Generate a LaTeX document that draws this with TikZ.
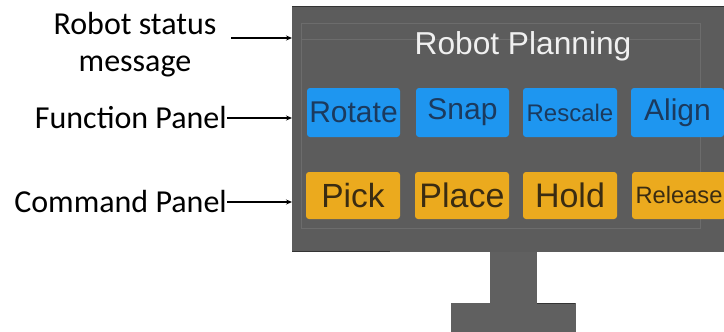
\documentclass[tikz,border=0pt]{standalone}
\usepackage{fontspec}
\setmainfont{Liberation Sans}
\newfontfamily\labelfont{Carlito}
\usetikzlibrary{arrows.meta}
\definecolor{screengray}{HTML}{5C5C5C}
\definecolor{framegray}{HTML}{6C6C6C}
\definecolor{edgegray}{HTML}{333333}
\definecolor{standgray}{HTML}{606060}
\definecolor{btnblue}{HTML}{1E96F0}
\definecolor{btnbluetext}{HTML}{1B3A5E}
\definecolor{btnyellow}{HTML}{EBAA1E}
\definecolor{btnyellowtext}{HTML}{3A2C12}
\tikzset{
  btn/.style={rounded corners=3pt, inner sep=0pt, minimum width=93pt},
  bluebtn/.style={btn, fill=btnblue, text=btnbluetext, minimum height=49pt},
  yellowbtn/.style={btn, fill=btnyellow, text=btnyellowtext, minimum height=47pt},
  sidelabel/.style={font=\labelfont\fontsize{32}{38}\selectfont, text=black, inner sep=0pt},
  pointer/.style={-{Stealth[length=6pt,width=5pt]}, line width=1.3pt, black},
}
\begin{document}
\begin{tikzpicture}[x=1pt,y=-1pt]
\useasboundingbox (0,0) rectangle (724,332);
% monitor stand
\fill[standgray] (490,250) rectangle (537,304);
\fill[standgray] (451,303) rectangle (576,332);
\draw[edgegray, line width=1pt] (537,303.5) -- (575,303.5);
% screen
\fill[screengray] (292,6) rectangle (730,252);
\draw[edgegray, line width=1.5pt] (292,6.5) -- (730,6.5);
\draw[edgegray, line width=1.5pt] (292,251.5) -- (390,251.5);
% inner frame of the screen
\draw[framegray, line width=0.6pt] (301,23) rectangle (700,228);
\draw[framegray, line width=0.6pt] (301,39) -- (700,39);
% title
\node[text=white!94!black, font=\fontsize{31.7}{36}\selectfont, inner sep=0pt] (title) at (523,46) {Robot Planning};
% function panel
\node[bluebtn, font=\fontsize{30}{34}\selectfont] (rotate) at (353.5,112.5) {Rotate};
\node[bluebtn, font=\fontsize{30}{34}\selectfont] (snap) at (462.5,112.5) {Snap};
\node[bluebtn, font=\fontsize{24}{28}\selectfont, minimum width=94pt] (rescale) at (570,112.5) {Rescale};
\node[bluebtn, font=\fontsize{30}{34}\selectfont] (align) at (677.5,112.5) {Align};
% command panel
\node[yellowbtn, font=\fontsize{33.5}{38}\selectfont, minimum width=94pt] (pick) at (353,195.5) {Pick};
\node[yellowbtn, font=\fontsize{34}{38}\selectfont, minimum width=94pt] (place) at (462,195.5) {Place};
\node[yellowbtn, font=\fontsize{34}{38}\selectfont, minimum width=94pt] (hold) at (570,195.5) {Hold};
\node[yellowbtn, font=\fontsize{23.7}{28}\selectfont, minimum width=94pt] (release) at (679,195.5) {Release};
% anchor points on the screen's left edge
\coordinate (statusin) at (292,38);
\coordinate (funcin) at (292,118);
\coordinate (cmdin) at (292,202);
% side labels
\node[sidelabel, align=center] (status) at (135,45) {Robot status\\[-1pt]message};
\node[sidelabel, anchor=east] (funclabel) at (227,118) {Function Panel};
\node[sidelabel, anchor=east] (cmdlabel) at (227,202) {Command Panel};
\draw[pointer] (231,38) -- (statusin);
\draw[pointer] (funclabel.east) -- (funcin);
\draw[pointer] (cmdlabel.east) -- (cmdin);
\end{tikzpicture}
\end{document}
